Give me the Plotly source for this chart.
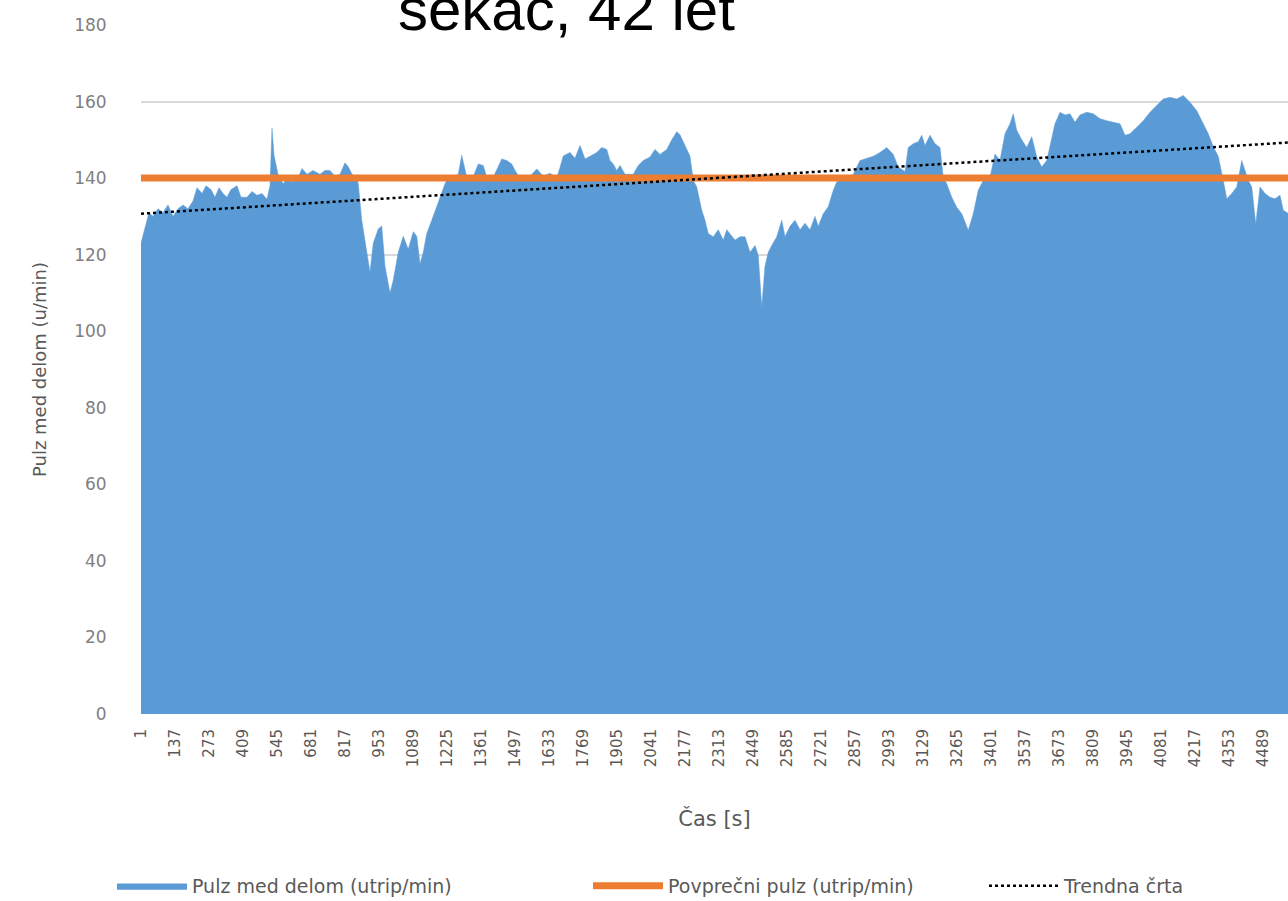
import plotly.graph_objects as go

# ---- data ----
time_s = [1, 9, 17, 33, 49, 69, 89, 109, 129, 149, 169, 189, 209, 225, 245, 261, 281, 297, 313, 329,
          345, 361, 385, 401, 425, 445, 465, 485, 505, 517, 525, 533, 549, 569, 589, 609, 629, 645, 665, 689,
          717, 737, 757, 777, 797, 817, 830, 845, 864, 870, 884, 904, 917, 930, 950, 964, 977, 997, 1010, 1030,
          1050, 1070, 1090, 1104, 1117, 1130, 1144, 1164, 1184, 1204, 1217, 1230, 1250, 1270, 1284, 1304, 1324, 1350, 1370, 1384,
          1410, 1444, 1464, 1484, 1497, 1517, 1557, 1584, 1610, 1637, 1664, 1677, 1690, 1717, 1737, 1757, 1777, 1797, 1824, 1844,
          1864, 1877, 1890, 1904, 1917, 1937, 1970, 1990, 2010, 2037, 2057, 2077, 2104, 2124, 2144, 2157, 2177, 2197, 2210, 2224,
          2244, 2257, 2270, 2290, 2310, 2330, 2344, 2364, 2377, 2397, 2417, 2437, 2457, 2470, 2484, 2497, 2510, 2524, 2544, 2564,
          2577, 2597, 2617, 2637, 2657, 2677, 2697, 2710, 2730, 2750, 2770, 2784, 2797, 2824, 2850, 2877, 2904, 2930, 2957, 2984,
          3010, 3017, 3030, 3057, 3070, 3090, 3110, 3124, 3137, 3157, 3177, 3197, 3210, 3224, 3244, 3264, 3284, 3310, 3330, 3350,
          3370, 3397, 3417, 3437, 3457, 3477, 3490, 3504, 3524, 3544, 3564, 3584, 3604, 3624, 3637, 3657, 3677, 3697, 3717, 3737,
          3757, 3784, 3810, 3837, 3864, 3890, 3917, 3937, 3957, 3984, 4010, 4037, 4064, 4090, 4117, 4144, 4170, 4197, 4224, 4250,
          4270, 4290, 4310, 4330, 4344, 4364, 4384, 4404, 4417, 4430, 4444, 4460, 4477, 4497, 4517, 4537, 4557, 4570, 4589]

pulse = [123, 125, 127, 131, 130, 132, 131, 133, 130, 132, 133, 132, 134, 137.5, 136, 138, 137, 135, 137.5, 136,
         135, 137, 138, 135, 135, 136.5, 135.5, 136, 134.5, 138, 153, 146, 141, 138.5, 140, 139, 140, 142.5, 141, 142,
         141, 142, 142, 140.5, 141, 144, 143, 141, 140, 138.5, 129, 120.6, 115.4, 123, 126.7, 127.5, 117, 110, 113.3, 120.6,
         124.8, 121.4, 126, 124.8, 117.6, 120.6, 125.5, 129, 132.5, 136, 138.5, 140.2, 140.2, 141, 146, 140.2, 139.4, 143.7, 143.3, 140.2,
         140.2, 145, 144.6, 143.7, 142, 140, 140.5, 142.4, 140.5, 141.3, 140, 142.8, 145.8, 146.7, 145.2, 148.5, 145, 145.7, 146.7, 148,
         147.5, 144.6, 143.7, 142, 143.3, 141, 141, 143.3, 144.6, 145.5, 147.5, 146.2, 147.5, 150, 152.1, 151.3, 148.3, 145.7, 139.4, 137.7,
         131.6, 129, 125.5, 124.7, 126.5, 123.8, 126.5, 124.7, 123.8, 124.7, 124.7, 120.6, 122.4, 119.8, 106.3, 117, 120.6, 122.4, 124.7, 129,
         124.7, 127.4, 129, 126.5, 128.2, 126.5, 130, 127.4, 130.7, 132.5, 136.8, 139, 139.4, 139.4, 141, 144.6, 145.2, 145.7, 146.7, 148,
         146.2, 145.2, 142.9, 141.7, 148, 149, 149.5, 151.2, 148.5, 151.2, 149, 148, 140.2, 138.5, 135, 132.4, 130.7, 126.4, 130.7, 136.8,
         139.4, 140.2, 146.3, 144.6, 151.6, 154.2, 156.8, 152.5, 150, 148, 150.8, 145.5, 142.9, 144.6, 148.5, 154.2, 157.2, 156.5, 156.8, 154.6,
         156.5, 157.2, 156.8, 155.5, 155, 154.6, 154.2, 151.2, 151.6, 153.3, 155, 157.2, 159, 160.7, 161.1, 160.7, 161.6, 159.8, 157.6, 154.2,
         151.6, 148.2, 145.7, 139.4, 134.6, 136, 137.7, 144.6, 142, 139.4, 137.7, 128, 137.7, 136, 135, 134.6, 135.5, 131.6, 130.8]

avg_pulse = 140
trend_start = 130.7
trend_end = 149.3

x_tick_values = [1, 137, 273, 409, 545, 681, 817, 953, 1089, 1225, 1361, 1497, 1633, 1769, 1905, 2041, 2177,
                 2313, 2449, 2585, 2721, 2857, 2993, 3129, 3265, 3401, 3537, 3673, 3809, 3945, 4081, 4217, 4353, 4489]
x_tick_labels = [str(v) for v in x_tick_values]
y_tick_values = [0, 20, 40, 60, 80, 100, 120, 140, 160, 180]

title_text = "sekač, 42 let"
series_name = "Pulz med delom (utrip/min)"
avg_name = "Povprečni pulz (utrip/min)"
trend_name = "Trendna črta"

BLUE = "#5B9BD5"
ORANGE = "#ED7D31"
GRAY = "#595959"
FONT = "DejaVu Sans"

fig = go.Figure()
fig.add_trace(go.Scatter(x=time_s, y=pulse, mode="lines", fill="tozeroy",
                         line=dict(color=BLUE, width=0.5), fillcolor=BLUE,
                         name=series_name, legend="legend"))
fig.add_trace(go.Scatter(x=[time_s[0], time_s[-1]], y=[avg_pulse, avg_pulse], mode="lines",
                         line=dict(color=ORANGE, width=7), name=avg_name, legend="legend2"))
fig.add_trace(go.Scatter(x=[time_s[0], time_s[-1]], y=[trend_start, trend_end], mode="lines",
                         line=dict(color="black", width=2.5, dash="dot"), name=trend_name,
                         legend="legend3"))


def legend_box(x_px):
    return dict(orientation="h", xref="container", yref="container",
                x=x_px / 1288, xanchor="left", y=15 / 901, yanchor="middle",
                itemwidth=70, font=dict(size=19, color=GRAY, family=FONT),
                bgcolor="rgba(0,0,0,0)")


fig.update_layout(
    width=1288, height=901,
    margin=dict(l=141, r=0, t=25, b=187),
    paper_bgcolor="white", plot_bgcolor="white",
    font=dict(family=FONT, color=GRAY),
    title=dict(text=title_text, x=398 / 1288, xanchor="left", xref="container",
               y=1 - 30 / 901, yanchor="bottom", yref="container",
               font=dict(family="Liberation Sans", size=60, color="black")),
    showlegend=True,
    legend=legend_box(112),
    legend2=legend_box(588),
    legend3=legend_box(984),
    xaxis=dict(range=[time_s[0], time_s[-1]], tickmode="array", tickvals=x_tick_values,
               ticktext=x_tick_labels, tickangle=-90, showgrid=False, zeroline=False,
               showline=False, ticks="outside", ticklen=8, tickcolor="rgba(0,0,0,0)",
               tickfont=dict(size=15, color=GRAY), automargin=False,
               title=dict(text="Čas [s]", font=dict(size=21, color=GRAY), standoff=45)),
    yaxis=dict(range=[0, 180], tickmode="array", tickvals=y_tick_values,
               showgrid=True, gridcolor="#D9D9D9", gridwidth=1.5, zeroline=False,
               showline=False, ticks="outside", ticklen=30, tickcolor="rgba(0,0,0,0)",
               tickfont=dict(size=17, color="#7F7F7F"), automargin=False,
               title=dict(text="Pulz med delom (u/min)", font=dict(size=18, color=GRAY), standoff=22)),
)

fig.write_html("out.html", config={"displayModeBar": False},
               post_script="document.body.style.margin='0px';document.body.style.overflow='hidden';")
